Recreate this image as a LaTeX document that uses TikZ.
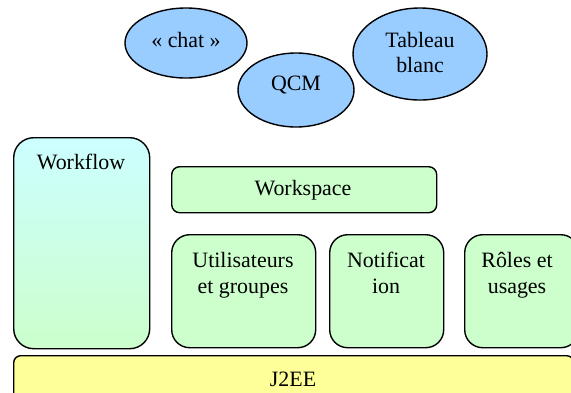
\documentclass[tikz,border=0pt]{standalone}
\usepackage{fontspec}
\setmainfont{Liberation Serif}
\usetikzlibrary{shapes.geometric}
\definecolor{ellblue}{HTML}{99CCFF}
\definecolor{boxgreen}{HTML}{CCFFCC}
\definecolor{boxcyan}{HTML}{CCFFFF}
\definecolor{boxyellow}{HTML}{FFFF99}
\tikzset{
  outl/.style={draw=black, line width=1.4bp},
  ell/.style={outl, ellipse, fill=ellblue, inner sep=0pt},
  gbox/.style={outl, rectangle, fill=boxgreen, inner sep=0pt, anchor=north west},
  txt/.style={font=\fontsize{22}{26}\selectfont, inner sep=0pt, anchor=base},
}
\begin{document}
\begin{tikzpicture}[x=1bp,y=-1bp]
\useasboundingbox (0,0) rectangle (571,392);
\clip (0,0) rectangle (571,392);
% ellipses
\node[ell, minimum width=122bp, minimum height=70bp] (chat) at (186,43) {};
\node[ell, minimum width=116bp, minimum height=74bp] (qcm) at (296,90) {};
\node[ell, minimum width=134bp, minimum height=92bp] (tab) at (420,54) {};
\node[txt] (tchat) at (186,47) {« chat »};
\node[txt] (tqcm) at (296,90) {QCM};
\node[txt] (ttab1) at (420,47) {Tableau};
\node[txt] (ttab2) at (420,72) {blanc};
% workflow
\node[outl, rounded corners=20bp, top color=boxcyan, bottom color=boxgreen, minimum width=136bp, minimum height=211bp, anchor=north west, inner sep=0pt] (wf) at (13,137) {};
\node[txt] (twf) at (81,169) {Workflow};
% workspace
\node[gbox, rounded corners=8bp, minimum width=265bp, minimum height=46bp] (ws) at (171,166) {};
\node[txt] (tws) at (303,195) {Workspace};
% lower boxes
\node[gbox, rounded corners=18bp, minimum width=144bp, minimum height=113bp] (ug) at (171,234) {};
\node[gbox, rounded corners=18bp, minimum width=114bp, minimum height=113bp] (nt) at (329,234) {};
\node[gbox, rounded corners=18bp, minimum width=114bp, minimum height=113bp] (ru) at (464,234) {};
\node[txt] (tug1) at (243,267) {Utilisateurs};
\node[txt] (tug2) at (243,293) {et groupes};
\node[txt] (tnt1) at (386,267) {Notificat};
\node[txt] (tnt2) at (386,293) {ion};
\node[txt] (tru1) at (517,267) {Rôles et};
\node[txt] (tru2) at (517,293) {usages};
% J2EE
\node[outl, rounded corners=7bp, fill=boxyellow, minimum width=560bp, minimum height=50bp, anchor=north west, inner sep=0pt] (j2) at (13,355) {};
\node[txt] (tj2) at (293,386) {J2EE};
\end{tikzpicture}
\end{document}
